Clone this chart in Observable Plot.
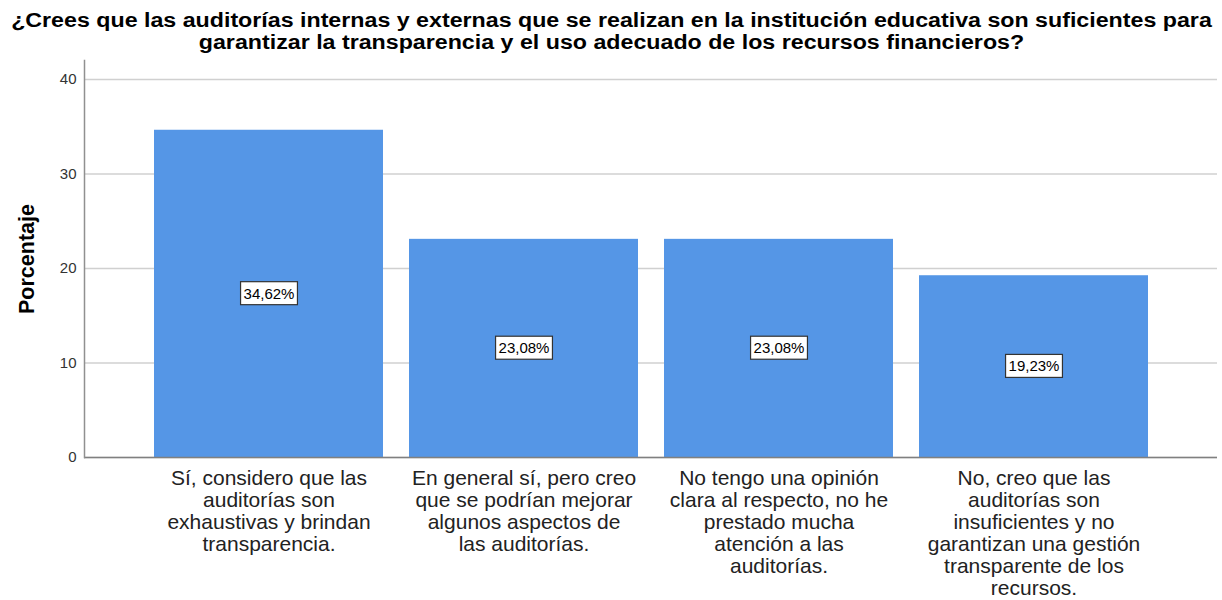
<!DOCTYPE html>
<html>
<head>
<meta charset="utf-8">
<script src="https://cdn.jsdelivr.net/npm/d3@7"></script>
<script src="https://cdn.jsdelivr.net/npm/@observablehq/plot@0.6"></script>
<style>
  html, body { margin: 0; padding: 0; background: #fff; }
  #title { width: 1222px; height: 55px; box-sizing: border-box; padding-top: 9px;
    text-align: center; font-family: "Liberation Sans", Arial, sans-serif; font-weight: bold;
    font-size: 19.5px; line-height: 22px; color: #000; overflow: visible; }
  #title span { display: inline-block; transform: scaleX(1.19); transform-origin: center; white-space: nowrap; }
  #chart svg { display: block; font-family: "Liberation Sans", Arial, sans-serif; }
</style>
</head>
<body>
<div id="title"><span>¿Crees que las auditorías internas y externas que se realizan en la institución educativa son suficientes para<br>garantizar la transparencia y el uso adecuado de los recursos financieros?</span></div>
<div id="chart"></div>
<script>
const categories = ["A", "B", "C", "D"];
const values = [34.62, 23.08, 23.08, 19.23];
const tickLabels = [
  "Sí, considero que las\nauditorías son\nexhaustivas y brindan\ntransparencia.",
  "En general sí, pero creo\nque se podrían mejorar\nalgunos aspectos de\nlas auditorías.",
  "No tengo una opinión\nclara al respecto, no he\nprestado mucha\natención a las\nauditorías.",
  "No, creo que las\nauditorías son\ninsuficientes y no\ngarantizan una gestión\ntransparente de los\nrecursos."
];
const yTicks = [0, 10, 20, 30, 40];

const data = categories.map((c, i) => ({cat: c, value: values[i], label: tickLabels[i]}));
const fmt = v => v.toFixed(2).replace(".", ",") + "%";

const chart = Plot.plot({
  width: 1222,
  height: 545,
  marginLeft: 84,
  marginRight: 5,
  marginTop: 5,
  marginBottom: 143,
  style: {fontFamily: "Liberation Sans, Arial, sans-serif", background: "#fff"},
  x: {domain: categories, paddingInner: 0.103, paddingOuter: 0.27, label: null},
  y: {domain: [0, 42], label: null},
  marks: [
    Plot.gridY(yTicks, {stroke: "#d0d0d0", strokeOpacity: 1, strokeWidth: 1.5}),
    Plot.barY(data, {x: "cat", y: "value", fill: "#5596E6"}),
    Plot.ruleY([0], {stroke: "#808080", strokeWidth: 1.5}),
    Plot.frame({anchor: "left", stroke: "#909090", strokeWidth: 1.5}),
    Plot.axisY(yTicks, {tickSize: 0, tickPadding: 8, fontSize: 15, fill: "#333", label: null}),
    Plot.axisX({tickSize: 0, tickPadding: 12, fontSize: 21, lineHeight: 1.05, fill: "#222",
      lineAnchor: "top", tickFormat: c => tickLabels[categories.indexOf(c)], label: null}),
    Plot.text(data, {x: "cat", y: d => d.value / 2, text: d => fmt(d.value), fontSize: 15, fill: "#000"}),
    Plot.text(["Porcentaje"], {frameAnchor: "left", textAnchor: "middle", rotate: -90, dx: -57, fontSize: 21.5, fontWeight: "bold", fill: "#000"})
  ]
});
document.getElementById("chart").appendChild(chart);

// white boxes behind value labels
const groups = chart.querySelectorAll('g[aria-label="text"]');
const valueGroup = groups[0];
valueGroup.querySelectorAll("text").forEach(t => {
  const b = t.getBBox();
  const r = document.createElementNS("http://www.w3.org/2000/svg", "rect");
  const padX = 3, padY = 4;
  r.setAttribute("x", b.x - padX);
  r.setAttribute("y", b.y - padY + 1);
  r.setAttribute("width", b.width + 2 * padX);
  r.setAttribute("height", b.height + 2 * padY - 2);
  r.setAttribute("fill", "#fff");
  r.setAttribute("stroke", "#333");
  r.setAttribute("stroke-width", "1.2");
  const tr = t.getAttribute("transform");
  if (tr) r.setAttribute("transform", tr);
  t.parentNode.insertBefore(r, t);
});
</script>
</body>
</html>
